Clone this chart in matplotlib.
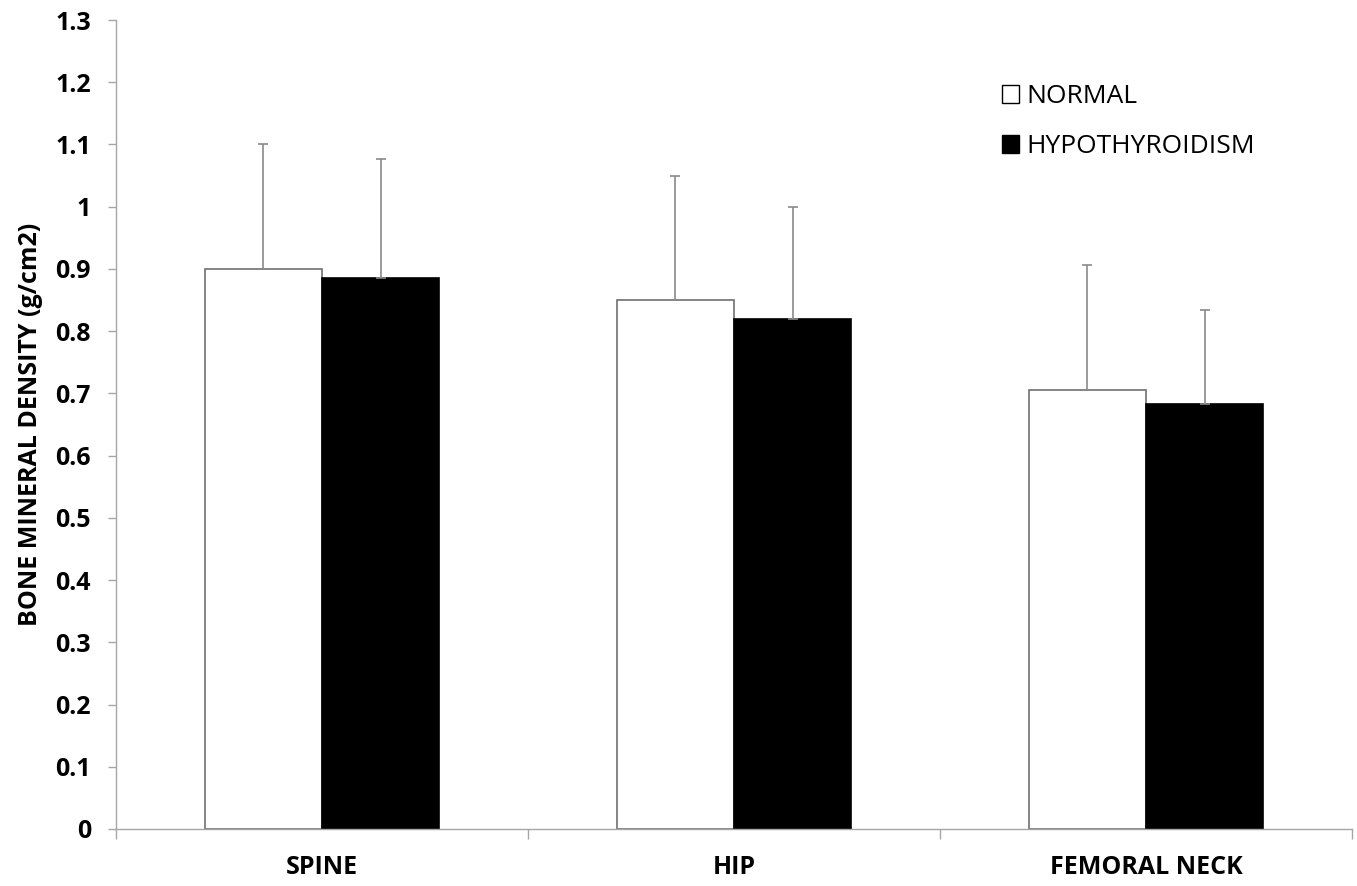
"""Bone mineral density by site: normal vs hypothyroidism (bar chart with SD)."""

import matplotlib

matplotlib.use("Agg")
import matplotlib.pyplot as plt
import numpy as np

plt.rcParams["font.family"] = ["Open Sans", "DejaVu Sans"]

categories = ["SPINE", "HIP", "FEMORAL NECK"]
groups = ["NORMAL", "HYPOTHYROIDISM"]
normal_mean = [0.900, 0.850, 0.705]
normal_sd = [0.200, 0.200, 0.201]
hypo_mean = [0.885, 0.819, 0.683]
hypo_sd = [0.192, 0.180, 0.151]
y_ticks = [0, 0.1, 0.2, 0.3, 0.4, 0.5, 0.6, 0.7, 0.8, 0.9, 1.0, 1.1, 1.2, 1.3]
y_tick_labels = ["0", "0.1", "0.2", "0.3", "0.4", "0.5", "0.6", "0.7", "0.8", "0.9",
                 "1", "1.1", "1.2", "1.3"]

W, H = 1357, 886
fig = plt.figure(figsize=(W / 100, H / 100), dpi=100)
ax = fig.add_axes([116 / W, 1 - 829 / H, (1352 - 116) / W, (829 - 20) / H])

x = np.arange(len(categories))
bw = 0.285
grey = "#8a8a8a"
err_kw = dict(ecolor=grey, elinewidth=1.2, capsize=3.5, capthick=1.2)

ax.bar(x - bw / 2, normal_mean, bw, color="white", edgecolor="#707070", linewidth=1.2,
       label=groups[0], yerr=[np.zeros(3), normal_sd], error_kw=err_kw, zorder=2)
ax.bar(x + bw / 2, hypo_mean, bw, color="black", edgecolor="black", linewidth=1.2,
       label=groups[1], yerr=[np.zeros(3), hypo_sd], error_kw=err_kw, zorder=2)

ax.set_xlim(-0.5, len(categories) - 0.5)
ax.set_ylim(0, 1.3)
ax.set_yticks(y_ticks)
ax.set_yticklabels(y_tick_labels, fontsize=18, fontweight="bold")
ax.set_xticks(x)
ax.set_xticklabels(categories, fontsize=18, fontweight="bold")
ax.set_xticks(np.arange(-0.5, len(categories)), minor=True)
ax.tick_params(axis="x", which="major", length=0, pad=19)
ax.tick_params(axis="x", which="minor", length=7, color="#a6a6a6", width=1.0)
ax.tick_params(axis="y", length=6, color="#a6a6a6", width=1.0, pad=12)

for side in ("top", "right"):
    ax.spines[side].set_visible(False)
for side in ("left", "bottom"):
    ax.spines[side].set_color("#a6a6a6")
    ax.spines[side].set_linewidth(1.0)

ax.set_ylabel("BONE MINERAL DENSITY (g/cm2)", fontsize=18, fontweight="bold", labelpad=9)

leg = ax.legend(loc="upper left", bbox_to_anchor=(1002 / W, 1 - 84 / H),
                bbox_transform=fig.transFigure, frameon=False, fontsize=19,
                handlelength=0.65, handleheight=0.65, handletextpad=0.27,
                labelspacing=0.95, borderpad=0, borderaxespad=0)
for h in leg.legend_handles:
    h.set_edgecolor("black")
    h.set_linewidth(1.0)

fig.savefig("out.png", dpi=100, facecolor="white")
